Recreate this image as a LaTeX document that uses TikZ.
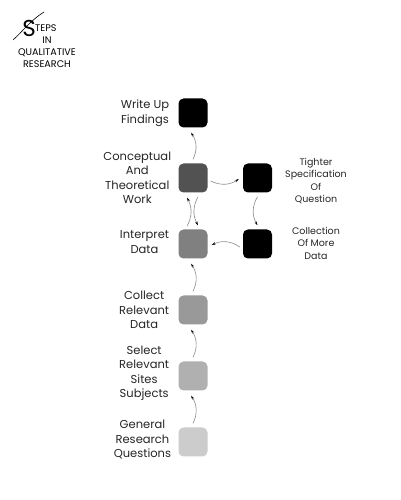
\documentclass[tikz,border=0pt]{standalone}
\usepackage{fontspec}
\setmainfont{Poppins}
\usetikzlibrary{arrows.meta}
\begin{document}
\begin{tikzpicture}[x=1pt,y=1pt,
  stepbox/.style={minimum size=29pt, inner sep=0pt, rounded corners=5pt},
  lbl/.style={align=center, font=\fontsize{11.5}{14.5}\selectfont, text=black!85, inner sep=0pt},
  rlbl/.style={align=center, font=\fontsize{9.5}{12.5}\selectfont, text=black!85, inner sep=0pt},
  ttl/.style={font=\fontsize{9.6}{10}\selectfont, inner sep=0pt},
  arr/.style={draw=black!45, line width=0.6pt, -{Stealth[length=4pt,width=2.4pt,black]}}]
\useasboundingbox[fill=white] (0,0) rectangle (400,500);
% title
\node[font=\fontsize{23}{23}\selectfont, inner sep=0pt] (bigS) at (29,472) {S};
\draw[line width=0.6pt, line cap=round] (13,460) .. controls (22,468) and (31,480) .. (44,488);
\node[ttl, anchor=west] (teps) at (35,472) {TEPS};
\node[ttl] (tin) at (47,459.5) {IN};
\node[ttl] (tqual) at (47,447.5) {QUALITATIVE};
\node[ttl] (tres) at (47,436) {RESEARCH};
% boxes
\node[stepbox, fill=black] (wu) at (193,387) {};
\node[stepbox, fill=black!68] (ct) at (193,322) {};
\node[stepbox, fill=black!50] (ip) at (193,256) {};
\node[stepbox, fill=black!40] (cd) at (193,190) {};
\node[stepbox, fill=black!31] (ss) at (193,124) {};
\node[stepbox, fill=black!20] (gq) at (193,58) {};
\node[stepbox, fill=black] (tq) at (257.5,322) {};
\node[stepbox, fill=black] (mo) at (257.5,256) {};
% labels
\node[lbl, anchor=east] (lwu) at ([xshift=-9pt]wu.west) {Write Up\\Findings};
\node[lbl, anchor=east] (lct) at ([xshift=-7pt]ct.west) {Conceptual\\And\\Theoretical\\Work};
\node[lbl, anchor=east] (lip) at ([xshift=-9pt,yshift=2pt]ip.west) {Interpret\\Data};
\node[lbl, anchor=east] (lcd) at ([xshift=-9pt]cd.west) {Collect\\Relevant\\Data};
\node[lbl, anchor=east] (lss) at ([xshift=-9pt,yshift=3pt]ss.west) {Select\\Relevant\\Sites\\Subjects};
\node[lbl, anchor=east] (lgq) at ([xshift=-7pt,yshift=2pt]gq.west) {General\\Research\\Questions};
\node[rlbl] (ltq) at (316,319) {Tighter\\Specification\\Of\\Question};
\node[rlbl] (lmo) at (316,257) {Collection\\Of More\\Data};
% connectors
\draw[arr] ([yshift=4pt]gq.north) to[bend right=30] ([xshift=-2pt,yshift=-5pt]ss.south);
\draw[arr] ([yshift=4pt]ss.north) to[bend right=30] ([xshift=-2pt,yshift=-5pt]cd.south);
\draw[arr] ([yshift=4pt]cd.north) to[bend right=30] ([xshift=-2pt,yshift=-5pt]ip.south);
\draw[arr] ([xshift=-6pt,yshift=3pt]ip.north) to[bend right=28] ([xshift=-6pt,yshift=-5pt]ct.south);
\draw[arr] ([xshift=5pt,yshift=-4pt]ct.south) to[bend right=28] ([xshift=5pt,yshift=4pt]ip.north);
\draw[arr] ([yshift=4pt]ct.north) to[bend right=30] ([xshift=-2pt,yshift=-5pt]wu.south);
\draw[arr] ([xshift=3pt,yshift=-3pt]ct.east) to[bend right=30] ([xshift=-4pt,yshift=-1pt]tq.west);
\draw[arr] ([yshift=-4pt]tq.south) to[bend right=30] ([yshift=4pt]mo.north);
\draw[arr] ([xshift=-3pt,yshift=-3pt]mo.west) to[bend right=30] ([xshift=4pt,yshift=-1pt]ip.east);
\end{tikzpicture}
\end{document}
